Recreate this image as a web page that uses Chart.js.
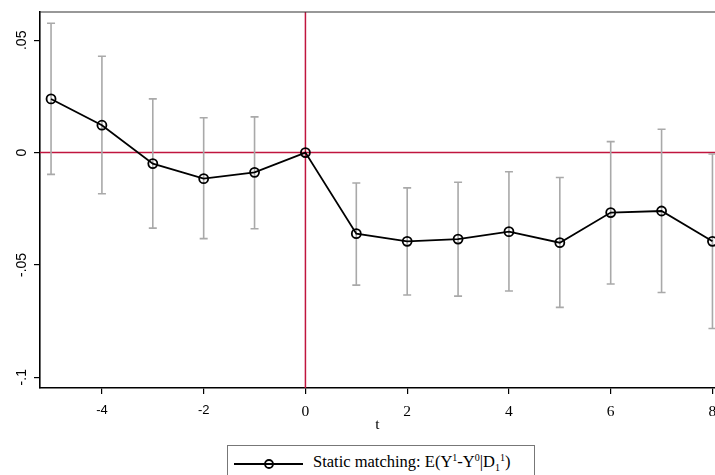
<!DOCTYPE html>
<html>
<head>
<meta charset="utf-8">
<script src="https://cdn.jsdelivr.net/npm/chart.js@4"></script>
<style>
  html, body { margin: 0; padding: 0; background: #fff; overflow: hidden; width: 715px; height: 475px; }
  #wrap { position: absolute; left: 0; top: 0; width: 730px; height: 440px; }
  #legend {
    position: absolute; left: 227px; top: 445px; width: 308px; height: 40px;
    border: 1px solid #777; box-sizing: border-box;
    font-family: "Liberation Serif", "Times New Roman", serif; font-size: 16.5px; color: #000;
  }
  #legend svg { position: absolute; left: 5px; top: 10px; }
  #legend .txt { position: absolute; left: 85px; top: 6px; white-space: nowrap; }
  #legend sup, #legend sub { font-size: 10px; line-height: 0; }
</style>
</head>
<body>
<div id="wrap"><canvas id="chart" width="730" height="440"></canvas></div>
<div id="legend">
  <svg width="72" height="16"><line x1="1" y1="8" x2="70" y2="8" stroke="#000" stroke-width="1.8"/><circle cx="36" cy="8" r="4" fill="none" stroke="#000" stroke-width="1.8"/></svg>
  <span class="txt">Static matching: E(Y<sup>1</sup>-Y<sup>0</sup>|D<sub>1</sub><sup>1</sup>)</span>
</div>
<script>
// event time
const tVals     = [-5, -4, -3, -2, -1, 0, 1, 2, 3, 4, 5, 6, 7, 8];
// point estimates
const estimates = [0.0239, 0.0122, -0.0049, -0.0116, -0.0088, 0, -0.0361, -0.0395, -0.0385, -0.0352, -0.0401, -0.0267, -0.0260, -0.0395];
// confidence interval bounds (none at t = 0)
const ciUpper   = [0.0576, 0.0429, 0.0239, 0.0155, 0.0159, null, -0.0135, -0.0157, -0.0132, -0.0085, -0.0111, 0.0049, 0.0104, -0.0006];
const ciLower   = [-0.0097, -0.0183, -0.0336, -0.0383, -0.0339, null, -0.0590, -0.0634, -0.0639, -0.0616, -0.0689, -0.0585, -0.0623, -0.0783];

const xTicks      = [-4, -2, 0, 2, 4, 6, 8];
const yTicks      = [-0.1, -0.05, 0, 0.05];
const yTickLabels = ['-.1', '-.05', '0', '.05'];

const RED  = '#c0153e';
const GRAY = '#a9a9a9';

// red reference lines at 0, error bars, top border, rotated y labels
const decorations = {
  id: 'decorations',
  beforeDatasetsDraw(chart) {
    const { ctx, chartArea: a, scales: { x, y } } = chart;
    ctx.save();
    ctx.strokeStyle = RED;
    ctx.lineWidth = 1.5;
    const y0 = y.getPixelForValue(0), x0 = x.getPixelForValue(0);
    ctx.beginPath();
    ctx.moveTo(a.left, y0); ctx.lineTo(a.right + 20, y0);
    ctx.moveTo(x0, a.top); ctx.lineTo(x0, a.bottom);
    ctx.stroke();

    ctx.strokeStyle = GRAY;
    ctx.lineWidth = 1.6;
    tVals.forEach((t, i) => {
      if (ciUpper[i] == null) return;
      const px = x.getPixelForValue(t);
      const hi = y.getPixelForValue(ciUpper[i]);
      const lo = y.getPixelForValue(ciLower[i]);
      ctx.beginPath();
      ctx.moveTo(px, hi); ctx.lineTo(px, lo);
      ctx.moveTo(px - 4, hi); ctx.lineTo(px + 4, hi);
      ctx.moveTo(px - 4, lo); ctx.lineTo(px + 4, lo);
      ctx.stroke();
    });
    ctx.restore();
  },
  afterDraw(chart) {
    const { ctx, chartArea: a, scales: { y } } = chart;
    ctx.save();
    ctx.strokeStyle = '#333';
    ctx.lineWidth = 1.2;
    ctx.beginPath();
    ctx.moveTo(a.left, a.top); ctx.lineTo(a.right + 20, a.top);
    ctx.stroke();

    ctx.fillStyle = '#000';
    ctx.font = '14px "Liberation Sans", Arial, sans-serif';
    ctx.textAlign = 'center';
    ctx.textBaseline = 'alphabetic';
    yTicks.forEach((v, i) => {
      ctx.save();
      ctx.translate(25.5, y.getPixelForValue(v));
      ctx.rotate(-Math.PI / 2);
      ctx.fillText(yTickLabels[i], 0, 0);
      ctx.restore();
    });
    ctx.restore();
  }
};

new Chart(document.getElementById('chart'), {
  type: 'scatter',
  data: {
    datasets: [{
      label: 'Static matching',
      data: tVals.map((t, i) => ({ x: t, y: estimates[i] })),
      showLine: true,
      borderColor: '#000',
      borderWidth: 1.8,
      pointRadius: 4.5,
      pointBorderWidth: 1.8,
      pointBorderColor: '#000',
      pointBackgroundColor: 'rgba(0,0,0,0)',
      clip: false
    }]
  },
  options: {
    responsive: false,
    animation: false,
    devicePixelRatio: 1,
    layout: { padding: { top: 12, right: 15, left: 0, bottom: 0 } },
    plugins: { legend: { display: false }, tooltip: { enabled: false } },
    scales: {
      x: {
        type: 'linear',
        min: -5.217,
        max: 8.05,
        afterBuildTicks: s => { s.ticks = xTicks.map(v => ({ value: v })); },
        afterFit: s => { s.height = 52; },
        grid: { drawOnChartArea: false, drawTicks: true, tickLength: 6, color: '#000', lineWidth: 1.2 },
        border: { color: '#000', width: 1.6 },
        ticks: {
          color: '#000',
          padding: 9,
          maxRotation: 0,
          font: c => (c.tick && c.tick.value < 0)
            ? { family: '"Liberation Sans", Arial, sans-serif', size: 13 }
            : { family: '"Liberation Serif", "Times New Roman", serif', size: 15.5 }
        },
        title: {
          display: true,
          text: 't',
          color: '#000',
          padding: { top: 0, bottom: 6 },
          font: { family: '"Liberation Serif", "Times New Roman", serif', size: 15.5 }
        }
      },
      y: {
        min: -0.1048,
        max: 0.0626,
        afterBuildTicks: s => { s.ticks = yTicks.map(v => ({ value: v })); },
        afterFit: s => { s.width = 40; },
        grid: { drawOnChartArea: false, drawTicks: true, tickLength: 6, color: '#000', lineWidth: 1.2 },
        border: { color: '#000', width: 1.6 },
        ticks: { display: false }
      }
    }
  },
  plugins: [decorations]
});
</script>
</body>
</html>
